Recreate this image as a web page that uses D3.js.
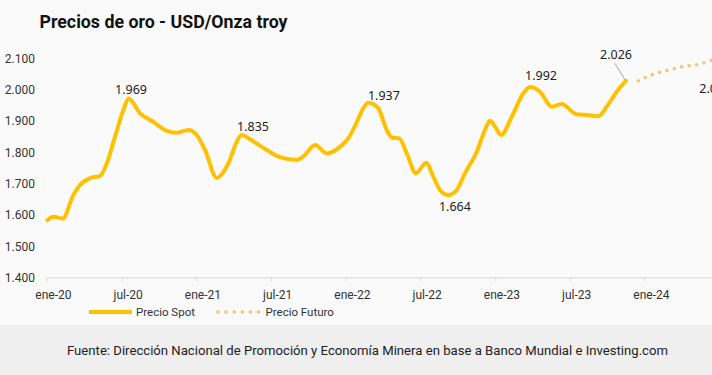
<!DOCTYPE html>
<html>
<head>
<meta charset="utf-8">
<script src="https://cdn.jsdelivr.net/npm/d3@7"></script>
<style>
  html, body { margin: 0; padding: 0; background: #fafafa; }
  svg { display: block; }
</style>
</head>
<body>
<svg id="chart" width="712" height="375"></svg>
<script>
// ---- Data (months since ene-20, USD/oz) ----
const spotMonth = [0.05,0.53,1.28,2.14,2.67,3.48,4.28,4.82,5.48,6.15,6.57,7.49,8.56,9.63,10.43,11.37,12.04,12.71,13.65,14.58,15.25,15.65,16.32,17.66,18.73,20.07,20.60,21.54,22.48,23.54,24.21,24.88,25.41,25.81,26.62,27.29,27.69,28.30,28.90,29.64,30.45,31.03,31.57,32.24,32.91,33.58,34.52,35.18,35.58,35.99,36.47,37.33,38.26,38.80,39.60,40.54,41.34,42.54,43.35,44.28,44.95,45.75,46.50];
const spotValue = [1583,1594,1588,1663,1695,1717,1724,1764,1849,1934,1971,1924,1897,1868,1862,1871,1855,1807,1718,1764,1833,1855,1841,1807,1784,1775,1786,1823,1796,1817,1844,1895,1940,1958,1940,1871,1847,1844,1796,1733,1766,1722,1679,1663,1679,1733,1801,1871,1900,1881,1855,1913,1988,2008,1993,1945,1954,1921,1919,1915,1945,1993,2028];
const futureMonth = [47.49,48.64,49.82,51.05,52.30,53.38,55.0];
const futureValue = [2028,2048,2061,2073,2080,2094,2108];

const tickMonths = [0,6,12,18,24,30,36,42,48];
const tickLabels = ["ene-20","jul-20","ene-21","jul-21","ene-22","jul-22","ene-23","jul-23","ene-24"];
const yTicks = [1400,1500,1600,1700,1800,1900,2000,2100];

const labelText  = ["1.969","1.835","1.937","1.664","1.992","2.026","2.090"];
const labelMonth = [6.77,16.56,27.07,32.77,39.68,45.7,52.38];
const labelValue = [1985.6,1869,1965,1611.6,2029.7,2099,1990.4];

const seriesNames = ["Precio Spot","Precio Futuro"];
const titleText = "Precios de oro - USD/Onza troy";
const sourceText = "Fuente: Dirección Nacional de Promoción y Economía Minera en base a Banco Mundial e Investing.com";

// ---- Chart ----
const W = 712, H = 375;
const svg = d3.select("#chart");
const gold = "#FFC000", pale = "#F0C66E", txt = "#222";

const x = d3.scaleLinear().domain([0, 48]).range([46.7, 644.7]);
const y = d3.scaleLinear().domain([1400, 2100]).range([277.5, 58.2]);

const loc = d3.formatLocale({decimal: ",", thousands: ".", grouping: [3], currency: ["$", ""]});
const fmt = loc.format(",d");

// footer band
svg.append("rect").attr("x", 0).attr("y", 325).attr("width", W).attr("height", H - 325).attr("fill", "#efefef");

// title
svg.append("text").attr("x", 39.5).attr("y", 28.3)
  .attr("font-family", "Roboto, sans-serif").attr("font-weight", 700).attr("font-size", 17.5)
  .attr("fill", "#111").attr("textLength", 248).attr("lengthAdjust", "spacingAndGlyphs")
  .text(titleText);

// y axis
const yAxis = svg.append("g").attr("transform", "translate(38,0)")
  .call(d3.axisLeft(y).tickValues(yTicks).tickSize(0).tickPadding(3).tickFormat(fmt));
yAxis.select(".domain").remove();
yAxis.selectAll("text").attr("font-family", "Roboto, sans-serif").attr("font-size", 12).attr("fill", "#333");

// x axis
const xAxis = svg.append("g").attr("transform", `translate(0,${y(1400)})`)
  .call(d3.axisBottom(x).tickValues(tickMonths).tickSize(4).tickSizeOuter(0)
        .tickFormat((d, i) => tickLabels[i]));
xAxis.select(".domain").remove();
xAxis.selectAll(".tick line").attr("stroke", "#d9d9d9");
xAxis.selectAll(".tick text")
  .attr("x", x(0.5) - x(0)).attr("y", 13).attr("dy", "0.71em")
  .attr("font-family", "Roboto, sans-serif").attr("font-size", 12).attr("fill", "#333");
xAxis.append("line").attr("x1", x(0)).attr("x2", W).attr("y1", 0.5).attr("y2", 0.5)
  .attr("stroke", "#d9d9d9").attr("stroke-width", 1);

// lines
const line = d3.line().x(d => x(d[0])).y(d => y(d[1])).curve(d3.curveMonotoneX);
const spot = spotMonth.map((m, i) => [m, spotValue[i]]);
const fut = futureMonth.map((m, i) => [m, futureValue[i]]);

svg.append("path").datum(fut).attr("d", line)
  .attr("fill", "none").attr("stroke", pale).attr("stroke-width", 3.6)
  .attr("stroke-linecap", "round").attr("stroke-dasharray", "0 7.6");

svg.append("path").datum(spot).attr("d", line)
  .attr("fill", "none").attr("stroke", gold).attr("stroke-width", 4)
  .attr("stroke-linejoin", "round").attr("stroke-linecap", "round");

// leader line for last spot label
const li = 5;
svg.append("line")
  .attr("x1", x(labelMonth[li]) - 1).attr("y1", y(labelValue[li]) + 5)
  .attr("x2", x(spotMonth[spotMonth.length - 1]) - 1).attr("y2", y(spotValue[spotValue.length - 1]) - 1)
  .attr("stroke", "#a6a6a6").attr("stroke-width", 1);

// data labels
svg.selectAll("text.lab").data(labelText).enter().append("text")
  .attr("class", "lab")
  .attr("x", (d, i) => x(labelMonth[i]))
  .attr("y", (d, i) => y(labelValue[i]))
  .attr("text-anchor", (d, i) => i === labelText.length - 1 ? "start" : "middle")
  .attr("font-family", "'Noto Sans', sans-serif").attr("font-size", 12.5).attr("fill", txt)
  .text(d => d);

// legend
const lg = svg.append("g");
lg.append("line").attr("x1", 89).attr("x2", 132).attr("y1", 312).attr("y2", 312)
  .attr("stroke", gold).attr("stroke-width", 4);
lg.append("text").attr("x", 136).attr("y", 312).attr("dy", "0.35em")
  .attr("font-family", "Roboto, sans-serif").attr("font-size", 11.5).attr("fill", "#333")
  .text(seriesNames[0]);
lg.append("line").attr("x1", 218).attr("x2", 259).attr("y1", 312).attr("y2", 312)
  .attr("stroke", pale).attr("stroke-width", 3.6).attr("stroke-linecap", "round")
  .attr("stroke-dasharray", "0 8.1");
lg.append("text").attr("x", 265.5).attr("y", 312).attr("dy", "0.35em")
  .attr("font-family", "Roboto, sans-serif").attr("font-size", 11.5).attr("fill", "#333")
  .text(seriesNames[1]);

// source
svg.append("text").attr("x", 67).attr("y", 350).attr("dy", "0.35em")
  .attr("font-family", "Roboto, sans-serif").attr("font-size", 13.5).attr("fill", "#222")
  .attr("textLength", 601).attr("lengthAdjust", "spacingAndGlyphs")
  .text(sourceText);
</script>
</body>
</html>
